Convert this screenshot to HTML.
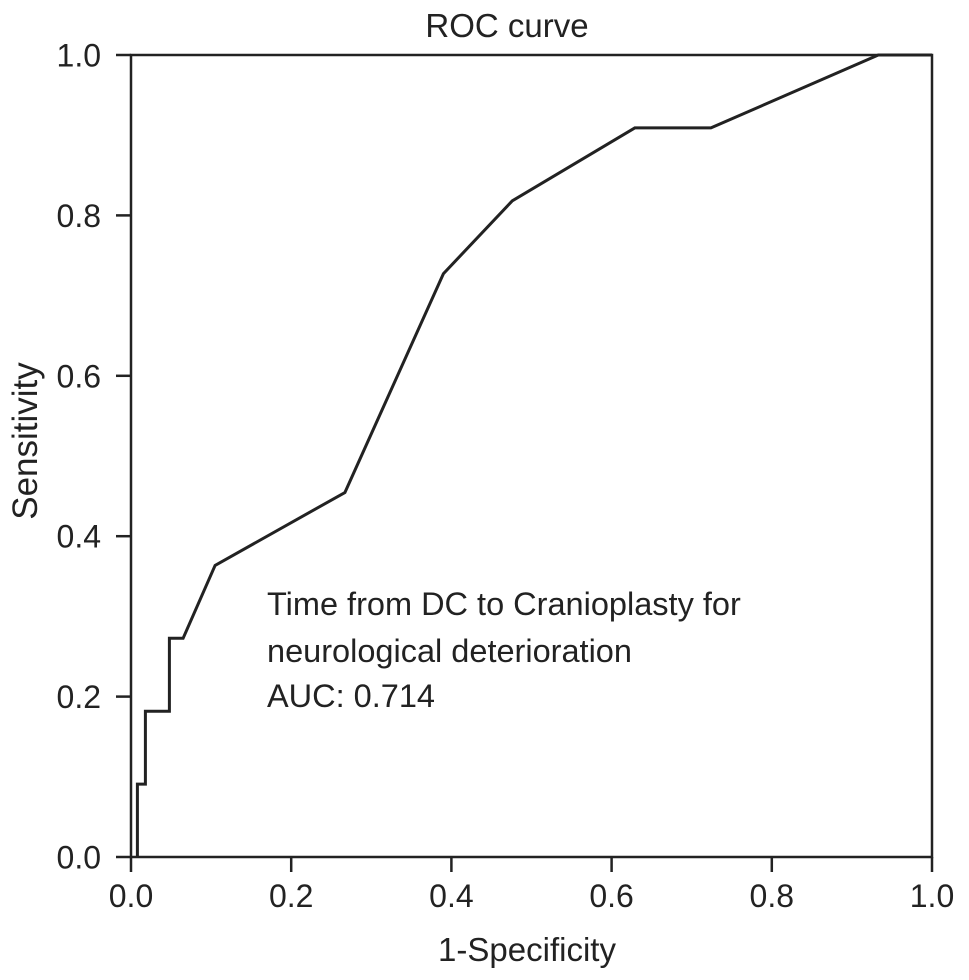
<!DOCTYPE html>
<html><head><meta charset="utf-8"><style>
html,body{margin:0;padding:0;background:#fff}
svg{display:block}
text{font-family:"Liberation Sans",Arial,sans-serif;fill:#222}
</style></head><body>
<svg id="chart" width="969" height="980" viewBox="0 0 969 980" xmlns="http://www.w3.org/2000/svg">
<text x="507" y="37" font-size="33" text-anchor="middle">ROC curve</text>
<rect x="131" y="55" width="801" height="802" fill="none" stroke="#222" stroke-width="2.5"/>
<g id="axes"></g>
<path id="curve" fill="none" stroke="#222" stroke-width="3" stroke-linejoin="miter"/>
<text transform="translate(37,441) rotate(-90)" font-size="35" text-anchor="middle">Sensitivity</text>
<text x="527" y="961" font-size="33" text-anchor="middle">1-Specificity</text>
<text x="267" y="615" font-size="32.5">Time from DC to Cranioplasty for</text>
<text x="267" y="662" font-size="32.5">neurological deterioration</text>
<text x="267" y="707" font-size="32.5">AUC: 0.714</text>
</svg>
<script>
const fpr = [0.008, 0.008, 0.018, 0.018, 0.048, 0.048, 0.065, 0.105, 0.267, 0.39, 0.476, 0.629, 0.724, 0.933, 1.0];
const tpr = [0.0, 0.0909, 0.0909, 0.1818, 0.1818, 0.2727, 0.2727, 0.3636, 0.4545, 0.7273, 0.8182, 0.9091, 0.9091, 1.0, 1.0];
const xTicks = [0, 0.2, 0.4, 0.6, 0.8, 1.0];
const yTicks = [0, 0.2, 0.4, 0.6, 0.8, 1.0];
const tickLabels = ["0.0", "0.2", "0.4", "0.6", "0.8", "1.0"];

const X0 = 131, X1 = 932, Y0 = 857, Y1 = 55;
function sx(v){ return X0 + v * (X1 - X0); }
function sy(v){ return Y0 - v * (Y0 - Y1); }
const NS = "http://www.w3.org/2000/svg";
const axes = document.getElementById('axes');

xTicks.forEach((t, i) => {
  const l = document.createElementNS(NS, 'line');
  
  
  l.setAttribute('x1', sx(t)); l.setAttribute('x2', sx(t));
  l.setAttribute('y1', Y0); l.setAttribute('y2', Y0 + 15);
  l.setAttribute('stroke', '#222'); l.setAttribute('stroke-width', '2.5');
  axes.appendChild(l);
  const tx = document.createElementNS(NS, 'text');
  
  
  tx.setAttribute('x', sx(t)); tx.setAttribute('y', 907);
  tx.setAttribute('font-size', '32'); tx.setAttribute('text-anchor', 'middle');
  tx.textContent = tickLabels[i];
  axes.appendChild(tx);
});
yTicks.forEach((t, i) => {
  const l = document.createElementNS(NS, 'line');
  
  
  l.setAttribute('x1', X0 - 15); l.setAttribute('x2', X0);
  l.setAttribute('y1', sy(t)); l.setAttribute('y2', sy(t));
  l.setAttribute('stroke', '#222'); l.setAttribute('stroke-width', '2.5');
  axes.appendChild(l);
  const tx = document.createElementNS(NS, 'text');
  
  
  tx.setAttribute('x', 101); tx.setAttribute('y', sy(t) + 11.5);
  tx.setAttribute('font-size', '32'); tx.setAttribute('text-anchor', 'end');
  tx.textContent = tickLabels[i];
  axes.appendChild(tx);
});
let d = '';
fpr.forEach((v, i) => { d += (i ? 'L' : 'M') + sx(v).toFixed(1) + ' ' + sy(tpr[i]).toFixed(1) + ' '; });
document.getElementById('curve').setAttribute('d', d);
</script>
</body></html>
